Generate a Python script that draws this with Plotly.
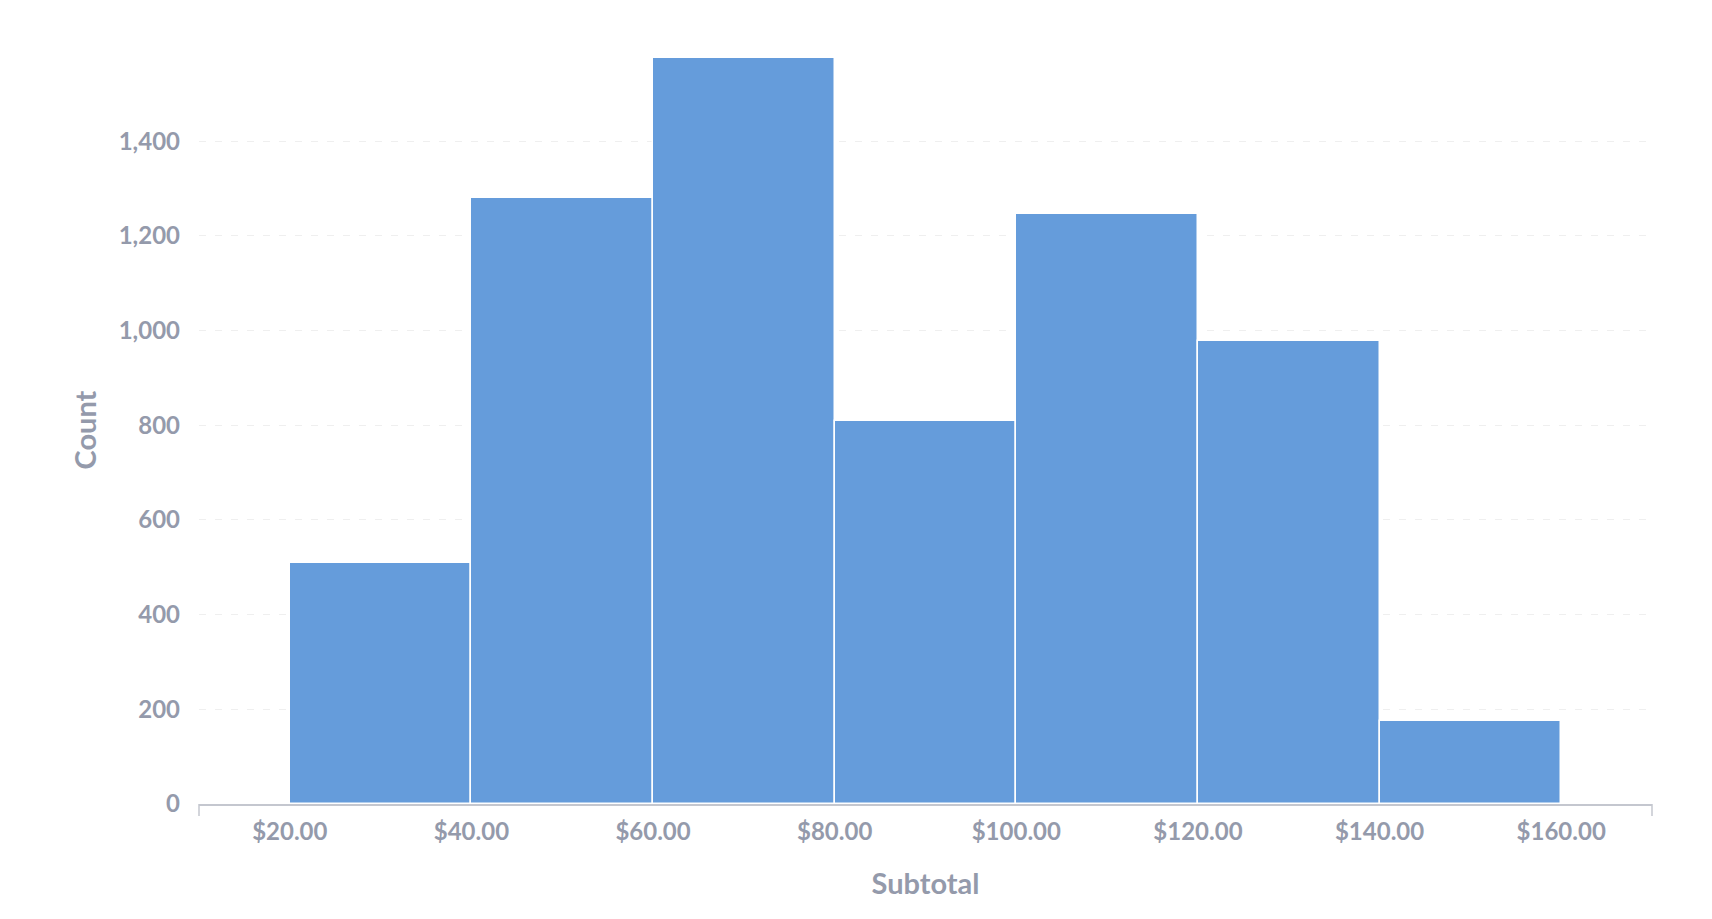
import plotly.graph_objects as go

# ===================== Data =====================
bin_starts = [20, 40, 60, 80, 100, 120, 140]
bin_width = 20
counts = [510, 1280, 1576, 810, 1246, 978, 175]
x_ticks = [20, 40, 60, 80, 100, 120, 140, 160]
y_ticks = [0, 200, 400, 600, 800, 1000, 1200, 1400]

bin_centers = [s + bin_width / 2 for s in bin_starts]
x_labels = ["${:.2f}".format(v) for v in x_ticks]

TEXT = "#949aab"
BAR = "#659cdb"

fig = go.Figure(go.Bar(
    x=bin_centers, y=counts, width=[bin_width] * len(counts),
    marker=dict(color=BAR, line=dict(color="white", width=1.5)),
    hovertemplate="%{x}<br>%{y}<extra></extra>"
))

fig.update_layout(
    width=1712, height=919,
    margin=dict(l=191, r=68, t=48, b=123),
    paper_bgcolor="white", plot_bgcolor="white",
    font=dict(family="Lato", size=24, color=TEXT, weight=700),
    bargap=0, showlegend=False,
)

fig.update_xaxes(
    range=[10, 170], tickvals=x_ticks, ticktext=x_labels,
    showgrid=False, zeroline=False, showline=True, linecolor="#c4c7cf", linewidth=1.5,
    ticks="", ticklabelstandoff=5,
    title=dict(text="Subtotal", font=dict(size=29, color=TEXT, weight=700), standoff=30),
)
fig.update_yaxes(
    range=[0, 1580], tickvals=y_ticks, tickformat=",",
    showgrid=True, gridcolor="#efefef", griddash="7px,9px", gridwidth=1,
    zeroline=False, showline=False, ticks="", ticklabelstandoff=18,
    title=dict(text="Count", font=dict(size=29, color=TEXT, weight=700), standoff=13),
)

# small end ticks on the x axis line
for xp in [0, 1]:
    fig.add_shape(type="line", xref="paper", yref="paper", x0=xp, x1=xp, y0=0, y1=-0.016,
                  line=dict(color="#c4c7cf", width=1.5))

fig.write_html("out.html")
